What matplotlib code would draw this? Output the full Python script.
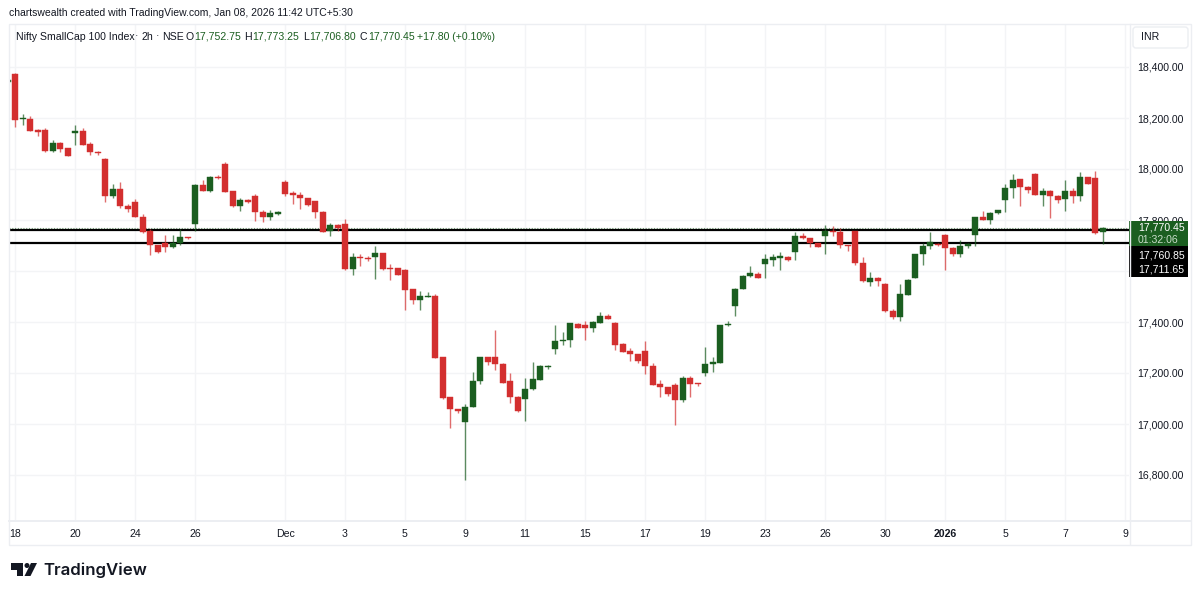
import numpy as np
import matplotlib.pyplot as plt
from matplotlib.patches import Polygon, Rectangle, Circle, FancyBboxPatch

plt.rcParams['font.family'] = ['Liberation Sans', 'DejaVu Sans']

# 2h candles, first one is cut off by the left edge of the pane
opens = [18341, 18374, 18195, 18196, 18153, 18154, 18069, 18103, 18082, 18143,
         18149, 18098, 18068, 18041, 17895, 17920, 17856, 17872, 17813, 17757,
         17702, 17709, 17696, 17709, 17733, 17784, 17939, 17913, 17970, 18020,
         17913, 17855, 17880, 17894, 17831, 17813, 17825, 17949, 17906, 17898,
         17886, 17873, 17831, 17756, 17780, 17786, 17609, 17656, 17652, 17655,
         17669, 17610, 17610, 17603, 17528, 17486, 17498, 17503, 17262, 17105,
         17059, 17009, 17067, 17169, 17262, 17264, 17237, 17167, 17107, 17098,
         17137, 17174, 17224, 17296, 17324, 17331, 17392, 17388, 17375, 17397,
         17425, 17396, 17314, 17286, 17275, 17288, 17229, 17157, 17145, 17153,
         17093, 17180, 17160, 17201, 17237, 17241, 17387, 17461, 17529, 17580,
         17590, 17629, 17644, 17652, 17656, 17675, 17737, 17728, 17709, 17736,
         17757, 17754, 17702, 17756, 17630, 17558, 17574, 17549, 17445, 17421,
         17507, 17574, 17665, 17698, 17707, 17740, 17690, 17668, 17699, 17741,
         17810, 17800, 17827, 17878, 17924, 17961, 17929, 17982, 17898, 17914,
         17894, 17884, 17912, 17895, 17969, 17966, 17752.75]
highs = [18350, 18375, 18216, 18209, 18156, 18160, 18114, 18107, 18082, 18173,
         18160, 18105, 18072, 18042, 17940, 17948, 17863, 17882, 17824, 17765,
         17702, 17741, 17741, 17765, 17735, 17941, 17956, 17971, 17975, 18026,
         17915, 17886, 17884, 17902, 17839, 17839, 17834, 17956, 17915, 17911,
         17888, 17875, 17834, 17787, 17783, 17804, 17669, 17667, 17659, 17699,
         17671, 17626, 17612, 17608, 17531, 17522, 17518, 17511, 17263, 17106,
         17060, 17077, 17203, 17264, 17264, 17369, 17239, 17199, 17109, 17179,
         17242, 17230, 17230, 17388, 17360, 17397, 17396, 17404, 17404, 17438,
         17430, 17399, 17316, 17299, 17276, 17324, 17238, 17173, 17147, 17160,
         17188, 17188, 17162, 17302, 17264, 17390, 17403, 17533, 17584, 17620,
         17595, 17668, 17668, 17676, 17660, 17754, 17750, 17729, 17710, 17780,
         17776, 17767, 17703, 17757, 17654, 17597, 17575, 17552, 17451, 17549,
         17567, 17668, 17709, 17754, 17711, 17745, 17693, 17722, 17709, 17812,
         17834, 17833, 17841, 17941, 17982, 17962, 17932, 17984, 17926, 17916,
         17897, 17958, 17924, 17990, 17970, 17992, 17773.25]
lows = [18340, 18163, 18174, 18148, 18131, 18068, 18068, 18068, 18051, 18094,
        18094, 18056, 18056, 17871, 17886, 17847, 17833, 17811, 17750, 17664,
        17669, 17675, 17689, 17701, 17726, 17758, 17913, 17910, 17960, 17910,
        17852, 17835, 17868, 17797, 17794, 17800, 17821, 17893, 17863, 17842,
        17855, 17809, 17753, 17736, 17756, 17603, 17586, 17620, 17638, 17570,
        17604, 17565, 17584, 17446, 17471, 17448, 17497, 17258, 17099, 16983,
        17042, 16782, 17066, 17158, 17233, 17212, 17160, 17083, 17047, 17013,
        17135, 17173, 17217, 17276, 17311, 17303, 17377, 17328, 17362, 17396,
        17412, 17289, 17281, 17246, 17238, 17195, 17153, 17105, 17111, 16998,
        17088, 17107, 17149, 17190, 17205, 17239, 17384, 17424, 17528, 17578,
        17571, 17574, 17620, 17604, 17641, 17643, 17726, 17695, 17694, 17665,
        17739, 17692, 17678, 17625, 17558, 17541, 17541, 17441, 17411, 17405,
        17506, 17573, 17625, 17685, 17697, 17604, 17659, 17655, 17692, 17698,
        17799, 17786, 17825, 17831, 17886, 17854, 17907, 17897, 17854, 17809,
        17868, 17835, 17868, 17875, 17941, 17745, 17706.80]
closes = [18348, 18192, 18199, 18150, 18145, 18069, 18103, 18080, 18052, 18149,
          18095, 18067, 18061, 17895, 17920, 17855, 17843, 17813, 17754, 17702,
          17675, 17696, 17710, 17732, 17729, 17939, 17914, 17969, 17965, 17911,
          17855, 17877, 17871, 17830, 17813, 17826, 17831, 17903, 17897, 17886,
          17859, 17831, 17754, 17779, 17769, 17609, 17656, 17650, 17648, 17671,
          17609, 17608, 17586, 17526, 17486, 17501, 17502, 17259, 17102, 17059,
          17050, 17067, 17170, 17262, 17245, 17237, 17162, 17107, 17052, 17137,
          17175, 17226, 17228, 17326, 17330, 17395, 17378, 17377, 17401, 17425,
          17413, 17311, 17284, 17276, 17247, 17229, 17154, 17144, 17118, 17094,
          17180, 17158, 17157, 17237, 17242, 17387, 17391, 17529, 17580, 17591,
          17573, 17646, 17654, 17658, 17643, 17737, 17728, 17710, 17695, 17757,
          17754, 17702, 17699, 17631, 17561, 17574, 17561, 17442, 17421, 17509,
          17563, 17667, 17698, 17714, 17701, 17690, 17667, 17698, 17707, 17810,
          17800, 17829, 17839, 17926, 17958, 17929, 17918, 17898, 17915, 17894,
          17878, 17912, 17894, 17967, 17942, 17748, 17770.45]

price_ticks = [16800, 17000, 17200, 17400, 17600, 17800, 18000, 18200, 18400]
# 17,600 sits behind the black price tags in the original
price_labels = ['16,800.00', '17,000.00', '17,200.00', '17,400.00', '',
                '17,800.00', '18,000.00', '18,200.00', '18,400.00']
date_positions = [0, 8, 16, 24, 36, 44, 52, 60, 68, 76, 84, 92, 100, 108, 116, 124, 132, 140, 148]
date_labels = ['18', '20', '24', '26', 'Dec', '3', '5', '9', '11', '15', '17', '19',
               '23', '26', '30', '2026', '5', '7', '9']
level_lines = [17760.85, 17711.65]
last_price = 17770.45

RED = '#d32f2f'
GREEN = '#1b5e20'
TEXT = '#131722'
BORDER = '#eceef2'
GRID = '#f3f4f6'
FS = 7.6

W, H = 1200, 596
fig = plt.figure(figsize=(W / 100, H / 100), dpi=100, facecolor='white')

# pane: x 9..1129, y 24..520 in pixels
ax = fig.add_axes([9 / W, 1 - 520 / H, 1120 / W, 496 / H])
ax.set_xlim(-0.8, 148.53)
ax.set_ylim(18000 - (520 - 169) / 0.255, 18000 - (24 - 169) / 0.255)

opens = np.array(opens)
highs = np.array(highs)
lows = np.array(lows)
closes = np.array(closes)
x = np.arange(len(opens)) - 1
up = closes >= opens
colors = np.where(up, GREEN, RED)

for level in level_lines:
    ax.axhline(level, color='black', linewidth=1.6, zorder=2.5)
ax.axhline(last_price, color=GREEN, linewidth=0.8, linestyle=(0, (1, 1.5)), alpha=0.6, zorder=2)

ax.vlines(x, lows, highs, colors=colors, linewidth=1, alpha=0.7, zorder=3)
ax.bar(x, np.abs(closes - opens), bottom=np.minimum(opens, closes), width=0.8,
       color=colors, edgecolor=colors, linewidth=0.3, zorder=4)

ax.set_yticks(price_ticks)
ax.set_yticklabels(price_labels)
ax.yaxis.tick_right()
ax.set_xticks(date_positions)
ax.set_xticklabels(date_labels)
ax.get_xticklabels()[15].set_fontweight('bold')
ax.tick_params(axis='both', length=0, labelsize=FS, labelcolor=TEXT)
ax.tick_params(axis='y', pad=5.8)
ax.tick_params(axis='x', pad=6.5)
ax.grid(True, color=GRID, linewidth=1)
ax.set_axisbelow(True)
for side in ax.spines:
    ax.spines[side].set_visible(False)

# overlay in pixel coordinates for the frame, price tags, header and logo
ov = fig.add_axes([0, 0, 1, 1], zorder=10)
ov.set_xlim(0, W)
ov.set_ylim(H, 0)
ov.axis('off')
ov.patch.set_alpha(0)

ov.add_patch(Rectangle((8.5, 23.5), 1182, 521, fill=False, edgecolor=BORDER, linewidth=1))
ov.plot([9, 1191], [520.5, 520.5], color=BORDER, linewidth=1.4)
ov.plot([1129.5, 1129.5], [24, 544], color=BORDER, linewidth=1)

ov.add_patch(FancyBboxPatch((1133, 27), 55, 21, boxstyle='round,pad=0,rounding_size=3',
                            facecolor='white', edgecolor=BORDER, linewidth=1))
ov.text(1141, 37.5, 'INR', fontsize=FS, color=TEXT, ha='left', va='center')

ov.add_patch(Rectangle((1129, 221), 59, 25, facecolor=GREEN, edgecolor='none'))
ov.add_patch(Rectangle((1129, 246), 59, 31, facecolor='black', edgecolor='none'))
ov.text(1138, 228, '17,770.45', fontsize=FS, color='white', ha='left', va='center')
ov.text(1138, 240, '01:32:06', fontsize=FS, color='#c8dcc9', ha='left', va='center')
ov.text(1138, 255, '17,760.85', fontsize=FS, color='white', ha='left', va='center')
ov.text(1138, 269, '17,711.65', fontsize=FS, color='white', ha='left', va='center')

ov.text(9, 13.5, 'chartswealth created with TradingView.com, Jan 08, 2026 11:42 UTC+5:30',
        fontsize=FS - 0.1, color=TEXT, ha='left', va='center')

header_parts = [(16, 'Nifty SmallCap 100 Index', TEXT), (135, '·', TEXT), (141, '2h', TEXT), (156, '·', TEXT),
                (162, 'NSE', TEXT), (186, 'O', TEXT), (194, '17,752.75', GREEN), (244, 'H', TEXT),
                (252, '17,773.25', GREEN), (303, 'L', TEXT), (309, '17,706.80', GREEN), (360, 'C', TEXT),
                (368, '17,770.45', GREEN), (417, '+17.80 (+0.10%)', GREEN)]
for px, part, col in header_parts:
    ov.text(px, 36.5, part, fontsize=FS, color=col, ha='left', va='center')

# logo
ov.add_patch(Polygon([(11, 563), (23, 563), (23, 576), (17, 576), (17, 569.5), (11, 569.5)],
                     facecolor='#131722', edgecolor='none'))
ov.add_patch(Circle((27, 565.5), 2.5, facecolor='#131722', edgecolor='none'))
ov.add_patch(Polygon([(31, 563), (37, 563), (30.5, 576), (24.5, 576)], facecolor='#131722', edgecolor='none'))
ov.text(43.5, 570, 'TradingView', fontsize=12.1, fontweight='semibold', family='Inter',
        color='#131722', ha='left', va='center')

fig.savefig('out.png', dpi=100)
plt.close(fig)
